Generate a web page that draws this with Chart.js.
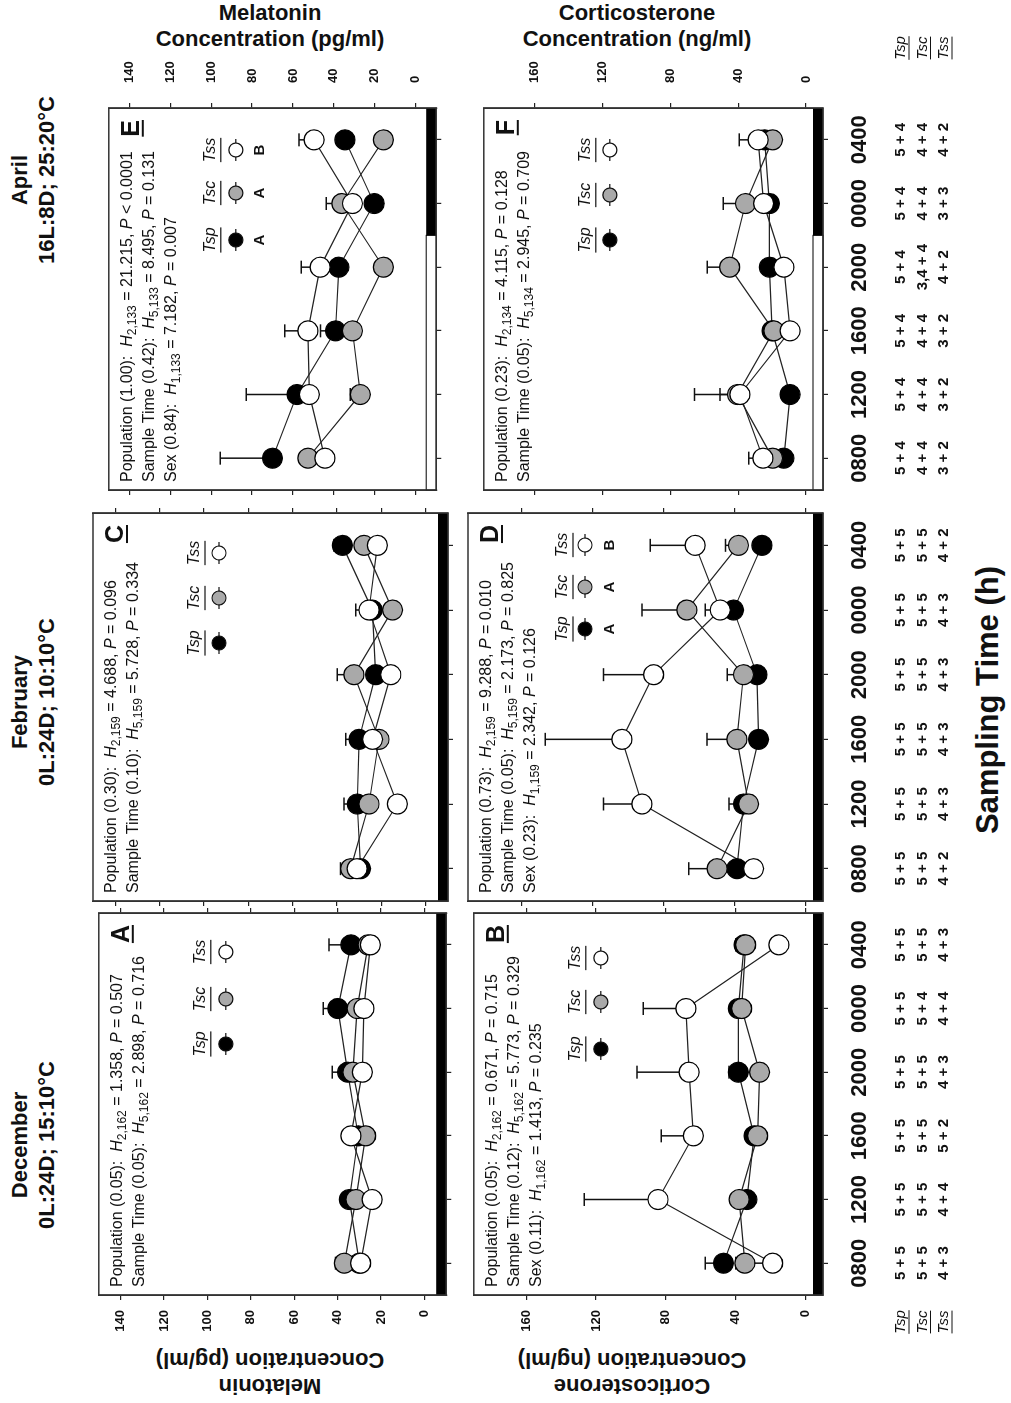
<!DOCTYPE html>
<html>
<head>
<meta charset="utf-8">
<script src="https://cdn.jsdelivr.net/npm/chart.js@4.4.0/dist/chart.umd.min.js"></script>
<style>
  body { margin: 0; background: #fff; width: 1011px; height: 1403px; overflow: hidden; }
  #fig { position: absolute; left: 0; top: 0; width: 1403px; height: 1011px;
         transform-origin: 0 0; transform: translate(0, 1403px) rotate(-90deg);
         font-family: 'Liberation Sans', Arial, sans-serif; color: #111; }
  #fig canvas { position: absolute; }
  .ct { position: absolute; top: 6px; width: 300px; text-align: center; font-weight: bold; font-size: 22px; line-height: 27px; }
  .yt { position: absolute; width: 320px; height: 52px; text-align: center; font-weight: bold; font-size: 22px; line-height: 26px; }
  .xt { position: absolute; width: 400px; text-align: center; font-weight: bold; font-size: 31px; line-height: 36px; }
</style>
</head>
<body>
<div id="fig">
  <div class="ct" style="left:108px">December<br>0L:24D; 15:10°C</div>
  <div class="ct" style="left:551px">February<br>0L:24D; 10:10°C</div>
  <div class="ct" style="left:1073px">April<br>16L:8D; 25:20°C</div>
  <div class="yt" style="left:-130px;top:244px;transform:rotate(-90deg)">Melatonin<br>Concentration (pg/ml)</div>
  <div class="yt" style="left:-130px;top:606px;transform:rotate(-90deg)">Corticosterone<br>Concentration (ng/ml)</div>
  <div class="yt" style="left:1217px;top:244px;transform:rotate(90deg)">Melatonin<br>Concentration (pg/ml)</div>
  <div class="yt" style="left:1217px;top:611px;transform:rotate(90deg)">Corticosterone<br>Concentration (ng/ml)</div>
  <div class="xt" style="left:503px;top:970px">Sampling Time (h)</div>
</div>
<script>
const FF = "'Liberation Sans', Arial, sans-serif";

// sampling times and axis ticks
const times = ['0800', '1200', '1600', '2000', '0000', '0400'];
const melTicks = [0, 20, 40, 60, 80, 100, 120, 140];
const cortTicks = [0, 40, 80, 120, 160];
const seriesNames = ['Tsp', 'Tsc', 'Tss'];

// A - December melatonin (mean, and top of error bar)
const decMelTsp = [30, 34.6, 30.5, 35.4, 39.9, 33.9];
const decMelTspTop = [null, 38, null, 42.5, 46.6, 44];
const decMelTsc = [36.9, 31.6, 27.1, 33, 31, 26];
const decMelTscTop = [41, null, null, null, null, null];
const decMelTss = [29.4, 24.1, 33.9, 28.6, 27.9, 24.9];
const decMelTssTop = [null, null, 36.5, null, null, null];

// B - December corticosterone
const decCortTsp = [47, 33.6, 29.5, 38.5, 38.5, 35.2];
const decCortTspTop = [57.5, null, null, 43.8, 40.5, 40];
const decCortTsc = [34.8, 38, 27.4, 26.3, 36.6, 34.3];
const decCortTscTop = [40, 40.5, null, null, null, 40];
const decCortTss = [18.8, 84.5, 64.2, 66.7, 68.5, 15.3];
const decCortTssTop = [31, 126.8, 82.6, 96.6, 93, null];

// C - February melatonin
const febMelTsp = [29.4, 30.9, 30.1, 22.6, 24.1, 37.6];
const febMelTspTop = [null, 36.9, 36.1, null, 31.6, 41.4];
const febMelTsc = [33.9, 25.6, 21.1, 32.4, 15, 27.9];
const febMelTscTop = [38.4, null, null, 39.9, null, null];
const febMelTss = [31, 12.8, 24, 15.8, 25.6, 21.8];
const febMelTssTop = [null, null, null, null, null, null];

// D - February corticosterone
const febCortTsp = [38.5, 34.8, 26.3, 27.2, 40.4, 24.4];
const febCortTspTop = [null, 43, null, null, null, null];
const febCortTsc = [49.7, 31.9, 38.5, 34.8, 66.7, 37.6];
const febCortTscTop = [65.7, null, 55.4, 44, 92, 45];
const febCortTss = [29.1, 92, 103.3, 85.4, 47.9, 62];
const febCortTssTop = [null, 113.6, 146.5, 113.6, 56.3, 87.3];

// E - April melatonin
const aprMelTsp = [70, 58, 39.2, 37.6, 20.3, 34.6];
const aprMelTspTop = [95.5, 82.8, 46.6, null, null, null];
const aprMelTsc = [52.7, 27.1, 30.9, 15.8, 36.1, 15.8];
const aprMelTscTop = [null, 32, null, null, 43.7, null];
const aprMelTss = [44.4, 52, 52.7, 46.7, 30.9, 49.7];
const aprMelTssTop = [null, null, 64, 56, null, 57];

// F - April corticosterone
const aprCortTsp = [13.1, 9.4, 20, 21.6, 21.6, 24.4];
const aprCortTspTop = [null, null, null, null, null, null];
const aprCortTsc = [19.7, 40.4, 19, 45, 35.7, 19.7];
const aprCortTscTop = [null, 65.7, null, 58.2, 48.8, null];
const aprCortTss = [25.4, 39, 9.4, 13.1, 25, 28.2];
const aprCortTssTop = [33.8, 50.7, null, null, 27, 39.4];

// statistics text per panel
const statsA = ['Population (0.05):  *H*_2,162_ = 1.358, *P* = 0.507', 'Sample Time (0.05):  *H*_5,162_ = 2.898, *P* = 0.716'];
const statsB = ['Population (0.05):  *H*_2,162_ = 0.671, *P* = 0.715', 'Sample Time (0.12):  *H*_5,162_ = 5.773, *P* = 0.329', 'Sex (0.11):  *H*_1,162_ = 1.413, *P* = 0.235'];
const statsC = ['Population (0.30):  *H*_2,159_ = 4.688, *P* = 0.096', 'Sample Time (0.10):  *H*_5,159_ = 5.728, *P* = 0.334'];
const statsD = ['Population (0.73):  *H*_2,159_ = 9.288, *P* = 0.010', 'Sample Time (0.05):  *H*_5,159_ = 2.173, *P* = 0.825', 'Sex (0.23):  *H*_1,159_ = 2.342, *P* = 0.126'];
const statsE = ['Population (1.00):  *H*_2,133_ = 21.215, *P* < 0.0001', 'Sample Time (0.42):  *H*_5,133_ = 8.495, *P* = 0.131', 'Sex (0.84):  *H*_1,133_ = 7.182, *P* = 0.007'];
const statsF = ['Population (0.23):  *H*_2,134_ = 4.115, *P* = 0.128', 'Sample Time (0.05):  *H*_5,134_ = 2.945, *P* = 0.709'];
const groupsD = ['A', 'A', 'B'];
const groupsE = ['A', 'A', 'B'];

// sample sizes (males + females)
const nDecTsp = ['5 + 5', '5 + 5', '5 + 5', '5 + 5', '5 + 5', '5 + 5'];
const nDecTsc = ['5 + 5', '5 + 5', '5 + 5', '5 + 5', '5 + 4', '5 + 5'];
const nDecTss = ['4 + 3', '4 + 4', '5 + 2', '4 + 3', '4 + 4', '4 + 3'];
const nFebTsp = ['5 + 5', '5 + 5', '5 + 5', '5 + 5', '5 + 5', '5 + 5'];
const nFebTsc = ['5 + 5', '5 + 5', '5 + 5', '5 + 5', '5 + 5', '5 + 5'];
const nFebTss = ['4 + 2', '4 + 3', '4 + 3', '4 + 3', '4 + 3', '4 + 2'];
const nAprTsp = ['5 + 4', '5 + 4', '5 + 4', '5 + 4', '5 + 4', '5 + 4'];
const nAprTsc = ['4 + 4', '4 + 4', '4 + 4', '3,4 + 4', '4 + 4', '4 + 4'];
const nAprTss = ['3 + 2', '3 + 2', '3 + 2', '4 + 2', '3 + 3', '4 + 2'];

// photoperiod: dark phase starts at this x (in sample index units)
const darkStart = [-0.5, -0.5, 3.5];

// layout
const fills = ['#000000', '#a9a9a9', '#ffffff'];
const cols = [{ x: 108, w: 382 }, { x: 502, w: 388 }, { x: 913, w: 382 }];
const rows = [{ y: 93, h: 355, max: 150, ticks: melTicks }, { y: 468, h: 355, max: 190, ticks: cortTicks }];

const panels = [
  { letter: 'A', col: 0, row: 0, mean: [decMelTsp, decMelTsc, decMelTss], top: [decMelTspTop, decMelTscTop, decMelTssTop], stats: statsA, legX: [251, 296, 343], legY: 102, mkY: 127 },
  { letter: 'B', col: 0, row: 1, mean: [decCortTsp, decCortTsc, decCortTss], top: [decCortTspTop, decCortTscTop, decCortTssTop], stats: statsB, legX: [246, 293, 337], legY: 102, mkY: 127, n: [nDecTsp, nDecTsc, nDecTss] },
  { letter: 'C', col: 1, row: 0, mean: [febMelTsp, febMelTsc, febMelTss], top: [febMelTspTop, febMelTscTop, febMelTssTop], stats: statsC, legX: [258, 303, 348], legY: 102, mkY: 126 },
  { letter: 'D', col: 1, row: 1, mean: [febCortTsp, febCortTsc, febCortTss], top: [febCortTspTop, febCortTscTop, febCortTssTop], stats: statsD, legX: [272, 314, 356], legY: 95, mkY: 117, groups: groupsD, grpY: 142, n: [nFebTsp, nFebTsc, nFebTss] },
  { letter: 'E', col: 2, row: 0, mean: [aprMelTsp, aprMelTsc, aprMelTss], top: [aprMelTspTop, aprMelTscTop, aprMelTssTop], stats: statsE, legX: [250, 297, 340], legY: 102, mkY: 127, groups: groupsE, grpY: 151 },
  { letter: 'F', col: 2, row: 1, mean: [aprCortTsp, aprCortTsc, aprCortTss], top: [aprCortTspTop, aprCortTscTop, aprCortTssTop], stats: statsF, legX: [250, 295, 340], legY: 102, mkY: 126, n: [nAprTsp, nAprTsc, nAprTss] }
];

const fig = document.getElementById('fig');

// draws a line of text with *italic* and _subscript_ parts
function richLine(ctx, str, x, y, size) {
  const parts = str.split(/(\*[^*]+\*|_[^_]+_)/).filter(s => s.length);
  ctx.textAlign = 'left';
  ctx.textBaseline = 'alphabetic';
  for (const part of parts) {
    let t = part, font = size + 'px ' + FF, dy = 0;
    if (part[0] === '*') { t = part.slice(1, -1); font = 'italic ' + font; }
    else if (part[0] === '_') { t = part.slice(1, -1); font = Math.round(size * 0.72) + 'px ' + FF; dy = size * 0.28; }
    ctx.font = font;
    ctx.fillText(t, x, y + dy);
    x += ctx.measureText(t).width;
  }
}

function underlined(ctx, text, x, y, font, off) {
  ctx.font = font;
  ctx.textAlign = 'center';
  ctx.textBaseline = 'middle';
  ctx.fillText(text, x, y);
  const w = ctx.measureText(text).width;
  ctx.beginPath();
  ctx.moveTo(x - w / 2, y + off);
  ctx.lineTo(x + w / 2, y + off);
  ctx.stroke();
}

function makePanel(p) {
  const c = cols[p.col], r = rows[p.row];
  const padL = 80, padR = 90, padT = 12, padB = p.row === 1 ? 140 : 16;
  const cv = document.createElement('canvas');
  cv.width = c.w + padL + padR;
  cv.height = r.h + padT + padB;
  cv.style.left = (c.x - padL) + 'px';
  cv.style.top = (r.y - padT) + 'px';
  fig.appendChild(cv);

  const yAxis = (pos, show, pad) => ({
    type: 'linear', position: pos, min: -10, max: r.max,
    afterBuildTicks: s => { s.ticks = r.ticks.map(v => ({ value: v })); },
    ticks: { display: show, color: '#111', padding: pad, font: { family: FF, size: 13, weight: 'bold' } },
    grid: { drawOnChartArea: false, drawTicks: true, tickLength: 5, color: '#222', lineWidth: 1.2 },
    border: { display: true, color: '#333', width: 1.5 },
    afterFit: s => { s.width = pos === 'left' ? padL : padR; }
  });

  const lineSets = p.mean.map((m, s) => ({
    data: m.map((v, i) => ({ x: i, y: v })),
    showLine: true, pointRadius: 0, borderColor: '#222', borderWidth: 1.2, order: 10 + s, clip: false
  }));
  const pointSets = p.mean.map((m, s) => ({
    data: m.map((v, i) => ({ x: i, y: v })),
    showLine: false, pointRadius: 10, pointHoverRadius: 10,
    pointBackgroundColor: fills[s], pointBorderColor: '#000', pointBorderWidth: 1.2,
    order: 2 - s, clip: false
  }));

  const deco = {
    id: 'deco' + p.letter,
    beforeDatasetsDraw(chart) {
      const ctx = chart.ctx, a = chart.chartArea;
      const xs = chart.scales.x, ys = chart.scales.y;
      ctx.save();
      // light/dark bar along the bottom
      const xd = xs.getPixelForValue(darkStart[p.col]);
      ctx.fillStyle = '#fff';
      ctx.strokeStyle = '#000';
      ctx.lineWidth = 1;
      if (xd > a.left) {
        ctx.fillRect(a.left, a.bottom - 10, xd - a.left, 10);
        ctx.strokeRect(a.left, a.bottom - 10, xd - a.left, 10);
      }
      ctx.fillStyle = '#000';
      ctx.fillRect(xd, a.bottom - 10, a.right - xd, 10);
      // error bars (upper side only)
      ctx.strokeStyle = '#111';
      ctx.lineWidth = 1.5;
      p.top.forEach((tops, s) => {
        tops.forEach((t, i) => {
          if (t == null) return;
          const x = xs.getPixelForValue(i);
          const y0 = ys.getPixelForValue(p.mean[s][i]);
          const y1 = ys.getPixelForValue(t);
          ctx.beginPath();
          ctx.moveTo(x, y0); ctx.lineTo(x, y1);
          ctx.moveTo(x - 6.5, y1); ctx.lineTo(x + 6.5, y1);
          ctx.stroke();
        });
      });
      ctx.restore();
    },
    afterDraw(chart) {
      const ctx = chart.ctx, a = chart.chartArea, xs = chart.scales.x;
      ctx.save();
      ctx.strokeStyle = '#333';
      ctx.lineWidth = 1.5;
      ctx.strokeRect(a.left, a.top, a.width, a.height);
      ctx.fillStyle = '#111';
      // statistics
      p.stats.forEach((s, k) => richLine(ctx, s, a.left + 8, a.top + 23 + 22 * k, 16));
      // panel letter
      ctx.strokeStyle = '#111';
      ctx.lineWidth = 2;
      ctx.font = 'bold 25px ' + FF;
      ctx.textAlign = 'right';
      ctx.textBaseline = 'alphabetic';
      ctx.fillText(p.letter, a.right - 12, a.top + 30);
      const lw = ctx.measureText(p.letter).width;
      ctx.beginPath();
      ctx.moveTo(a.right - 12 - lw, a.top + 34);
      ctx.lineTo(a.right - 12, a.top + 34);
      ctx.stroke();
      // legend
      ctx.lineWidth = 1.2;
      seriesNames.forEach((nm, s) => {
        const x = a.left + p.legX[s];
        underlined(ctx, nm, x, a.top + p.legY, 'italic 16px ' + FF, 10);
        const y = a.top + p.mkY;
        ctx.beginPath();
        ctx.moveTo(x - 11, y); ctx.lineTo(x + 11, y);
        ctx.stroke();
        ctx.beginPath();
        ctx.arc(x, y, 7, 0, Math.PI * 2);
        ctx.fillStyle = fills[s];
        ctx.fill();
        ctx.stroke();
        ctx.fillStyle = '#111';
        if (p.groups) {
          ctx.font = 'bold 15px ' + FF;
          ctx.textAlign = 'center';
          ctx.textBaseline = 'middle';
          ctx.fillText(p.groups[s], x, a.top + p.grpY);
        }
      });
      // sample sizes under the bottom row
      if (p.n) {
        ctx.font = 'bold 15px ' + FF;
        ctx.textAlign = 'center';
        ctx.textBaseline = 'middle';
        p.n.forEach((row, s) => {
          row.forEach((t, i) => ctx.fillText(t, xs.getPixelForValue(i), a.bottom + 78 + 21.5 * s));
        });
        if (p.col !== 1) {
          const lx = p.col === 0 ? a.left - 27 : a.right + 60;
          ctx.lineWidth = 1;
          seriesNames.forEach((nm, s) => underlined(ctx, nm, lx, a.bottom + 78 + 21.5 * s, 'italic 15px ' + FF, 8));
        }
      }
      ctx.restore();
    }
  };

  new Chart(cv, {
    type: 'scatter',
    data: { datasets: lineSets.concat(pointSets) },
    options: {
      responsive: false,
      animation: false,
      events: [],
      layout: { padding: { top: padT, left: 0, right: 0, bottom: 0 } },
      plugins: { legend: { display: false }, tooltip: { enabled: false } },
      scales: {
        x: {
          type: 'linear', position: 'bottom', min: -0.5, max: 5.5,
          afterBuildTicks: s => { s.ticks = times.map((t, i) => ({ value: i })); },
          ticks: { display: p.row === 1, color: '#111', padding: 19, maxRotation: 0, autoSkip: false,
                   font: { family: FF, size: 22, weight: 'bold' }, callback: v => times[v] },
          grid: { drawOnChartArea: false, drawTicks: true, tickLength: 5, color: '#222', lineWidth: 1.2 },
          border: { display: true, color: '#333', width: 1.5 },
          afterFit: s => { s.height = padB; }
        },
        y: yAxis('left', p.col === 0, 10),
        y2: yAxis('right', p.col === 2, 20)
      }
    },
    plugins: [deco]
  });
}

panels.forEach(makePanel);
</script>
</body>
</html>
